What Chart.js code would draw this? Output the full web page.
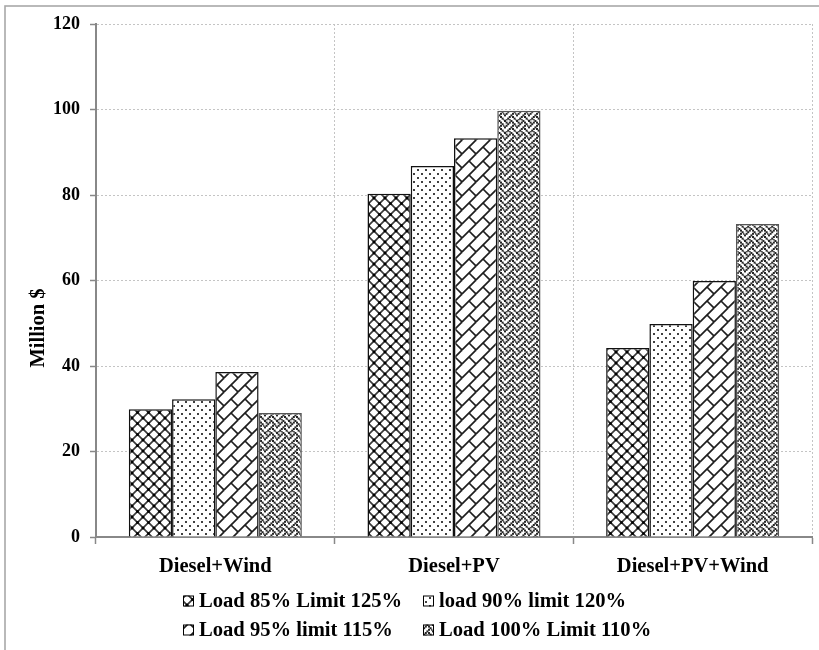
<!DOCTYPE html>
<html>
<head>
<meta charset="utf-8">
<script src="https://cdn.jsdelivr.net/npm/chart.js@4/dist/chart.umd.min.js"></script>
<style>
  html, body { margin: 0; padding: 0; background: #fff; }
  #wrap { width: 819px; height: 650px; position: relative; }
</style>
</head>
<body>
<div id="wrap"><canvas id="c" width="819" height="650"></canvas></div>
<script>
// Net present cost per hybrid configuration (million $)
const categories = ['Diesel+Wind', 'Diesel+PV', 'Diesel+PV+Wind'];
const seriesNames = ['Load 85% Limit 125%', 'load 90% limit 120%', 'Load 95% limit 115%', 'Load 100% Limit 110%'];
const load85 = [29.9, 80.3, 44.2];
const load90 = [32.2, 86.8, 49.8];
const load95 = [38.6, 93.3, 59.9];
const load100 = [29.0, 99.7, 73.2];
const yTicks = [0, 20, 40, 60, 80, 100, 120];
const yTitle = 'Million $';

const FONT = "'Liberation Serif', 'Times New Roman', serif";

// ---- hatch fills -------------------------------------------------------
function makeTile(size, draw) {
  const c = document.createElement('canvas');
  c.width = c.height = size;
  const g = c.getContext('2d');
  g.fillStyle = '#fff';
  g.fillRect(0, 0, size, size);
  // draw into the 3x3 neighbourhood so strokes wrap seamlessly
  for (const dx of [-size, 0, size]) {
    for (const dy of [-size, 0, size]) {
      g.save();
      g.translate(dx, dy);
      draw(g, size);
      g.restore();
    }
  }
  return c;
}
function line(g, x1, y1, x2, y2) {
  g.beginPath(); g.moveTo(x1, y1); g.lineTo(x2, y2); g.stroke();
}
function bitmapTile(rows, scale, dot, color) {
  const size = 8 * scale;
  return makeTile(size, (g) => {
    g.fillStyle = color;
    rows.forEach((bits, y) => {
      for (let x = 0; x < 8; x++) {
        if (bits & (0x80 >> x)) g.fillRect(x * scale, y * scale, dot, dot);
      }
    });
  });
}

const tiles = [
  // diamond trellis
  makeTile(11, (g, s) => {
    g.strokeStyle = '#3a3a3a'; g.lineWidth = 1.7;
    line(g, 0, 0, s, s); line(g, s, 0, 0, s);
    g.fillStyle = '#000';
    g.fillRect(s / 2 - 1.3, s / 2 - 1.3, 2.6, 2.6);
    g.fillRect(-1.3, -1.3, 2.6, 2.6);
  }),
  // sparse dots
  makeTile(8, (g) => {
    g.fillStyle = '#404040';
    g.fillRect(1, 1, 2, 2);
    g.fillRect(5, 5, 2, 2);
  }),
  // diagonal brick
  makeTile(14, (g, s) => {
    g.strokeStyle = '#1e1e1e'; g.lineWidth = 1.7;
    line(g, 0, s, s, 0);
    line(g, s / 2, s / 2, s, s);
  }),
  // weave
  bitmapTile([0x88, 0x54, 0x22, 0x45, 0x88, 0x14, 0x22, 0x51], 1.6, 2.0, '#262626')
];

const probe = document.createElement('canvas').getContext('2d');
const patterns = tiles.map(t => probe.createPattern(t, 'repeat'));

// ---- plugins ----------------------------------------------------------
const framePlugin = {
  id: 'frame',
  beforeDraw(chart) {
    const ctx = chart.ctx;
    ctx.save();
    ctx.fillStyle = '#fff';
    ctx.fillRect(0, 0, chart.width, chart.height);
    ctx.strokeStyle = '#a8a8a8';
    ctx.lineWidth = 1.6;
    ctx.strokeRect(5, 6, chart.width + 20, chart.height + 20);
    ctx.restore();
  }
};

const yTitlePlugin = {
  id: 'yTitle',
  afterDraw(chart) {
    const ctx = chart.ctx;
    ctx.save();
    ctx.translate(39, 328);
    ctx.rotate(-Math.PI / 2);
    ctx.font = 'bold 20.5px ' + FONT;
    ctx.fillStyle = '#000';
    ctx.textAlign = 'center';
    ctx.textBaseline = 'middle';
    ctx.fillText(yTitle, 0, 0);
    ctx.restore();
  }
};

const legendPlugin = {
  id: 'gridLegend',
  afterDraw(chart) {
    const ctx = chart.ctx;
    const cols = [183, 423];
    const rows = [601, 630];
    const box = 11;
    ctx.save();
    ctx.font = 'bold 20.6px ' + FONT;
    ctx.textBaseline = 'middle';
    chart.data.datasets.forEach((ds, i) => {
      const x = cols[i % 2];
      const y = rows[Math.floor(i / 2)];
      ctx.fillStyle = ds.backgroundColor;
      ctx.fillRect(x, y - box / 2, box, box);
      ctx.strokeStyle = '#000';
      ctx.lineWidth = 1;
      ctx.strokeRect(x + 0.5, y - box / 2 + 0.5, box - 1, box - 1);
      ctx.fillStyle = '#000';
      ctx.fillText(ds.label, x + box + 5, y + 1);
    });
    ctx.restore();
  }
};

// ---- chart --------------------------------------------------------------
const values = [load85, load90, load95, load100];
const borderColors = ['#111', '#111', '#111', '#555'];

new Chart(document.getElementById('c'), {
  type: 'bar',
  data: {
    labels: categories,
    datasets: values.map((v, i) => ({
      label: seriesNames[i],
      data: v,
      backgroundColor: patterns[i],
      borderColor: borderColors[i],
      borderWidth: 1.5,
      categoryPercentage: 0.725,
      barPercentage: 1.0
    }))
  },
  options: {
    responsive: false,
    animation: false,
    devicePixelRatio: 1,
    layout: { padding: { top: 24, right: 7, left: 0, bottom: 0 } },
    plugins: {
      legend: { display: false },
      tooltip: { enabled: false }
    },
    scales: {
      x: {
        afterFit(scale) { scale.height = 113; },
        grid: {
          offset: true,
          color: '#c4c4c4',
          lineWidth: 1,
          drawTicks: true,
          tickLength: 7,
          tickColor: '#888',
          tickWidth: 1.5,
          tickBorderDash: []
        },
        border: { display: true, color: '#888', width: 2, dash: [2, 2] },
        ticks: {
          padding: 10,
          color: '#000',
          font: { family: FONT, size: 20.5, weight: 'bold' }
        }
      },
      y: {
        min: 0,
        max: 120,
        afterFit(scale) { scale.width = 96; },
        afterBuildTicks(scale) { scale.ticks = yTicks.map(v => ({ value: v })); },
        grid: {
          color: '#c4c4c4',
          lineWidth: 1,
          drawTicks: true,
          tickLength: 6,
          tickColor: '#888',
          tickWidth: 1.5,
          tickBorderDash: []
        },
        border: { display: true, color: '#888', width: 2, dash: [2, 2] },
        ticks: {
          padding: 10,
          color: '#000',
          font: { family: FONT, size: 18, weight: 'bold' }
        }
      }
    }
  },
  plugins: [framePlugin, yTitlePlugin, legendPlugin]
});
</script>
</body>
</html>
